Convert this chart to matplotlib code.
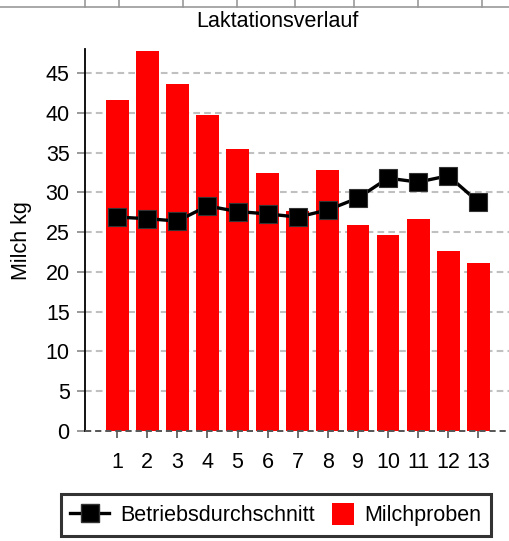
import matplotlib
matplotlib.use("Agg")
import matplotlib.pyplot as plt
from matplotlib.lines import Line2D
from matplotlib.patches import Patch, Rectangle
from matplotlib.legend_handler import HandlerPatch

plt.rcParams['font.family'] = ['Liberation Sans', 'DejaVu Sans']

months = [1, 2, 3, 4, 5, 6, 7, 8, 9, 10, 11, 12, 13]
milchproben = [41.6, 47.8, 43.6, 39.7, 35.4, 32.4, 27.7, 32.8, 25.9, 24.6, 26.6, 22.6, 21.1]
betrieb = [26.9, 26.7, 26.4, 28.3, 27.6, 27.3, 26.9, 27.8, 29.3, 31.8, 31.3, 32.1, 28.8]
yticks = [0, 5, 10, 15, 20, 25, 30, 35, 40, 45]

FS = 15.5
W, H = 509, 541
fig = plt.figure(figsize=(W / 100, H / 100), dpi=100)
ax = fig.add_axes([85 / W, 1 - 431 / H, (509 - 85) / W, (431 - 49.3) / H])

for y in yticks[1:]:
    ax.axhline(y, color='#c0c0c0', lw=1.5, ls=(0, (3.2, 2.0)), zorder=0)
ax.axhline(0, color='#555555', lw=1.4, ls=(0, (3.2, 2.0)), zorder=3, clip_on=False)

ax.bar(months, milchproben, width=0.76, color='#ff0000', zorder=1)
ax.plot(months, betrieb, color='black', lw=2.4, marker='s', markersize=13,
        markerfacecolor='black', markeredgecolor='#333333', markeredgewidth=0.8, zorder=4)

ax.set_xlim(-0.07, 14.02)
ax.set_ylim(0, 48)
ax.set_xticks(months)
ax.set_xticklabels([str(m) for m in months])
ax.set_yticks(yticks)

for s in ['top', 'right', 'bottom']:
    ax.spines[s].set_visible(False)
ax.spines['left'].set_color('black')
ax.spines['left'].set_linewidth(1.3)

ax.tick_params(axis='y', direction='out', length=6, width=1.2, color='#888888',
               labelsize=FS, pad=5)
ax.tick_params(axis='x', direction='out', length=5, width=1.2, color='#555555',
               labelsize=FS, pad=10)

ax.set_ylabel('Milch kg', fontsize=FS)
ax.yaxis.set_label_coords((32 - 85) / 424, 0.5)
fig.text(277 / W, 1 - 21.5 / H, 'Laktationsverlauf', ha='center', va='center', fontsize=FS)

# remnants of table border at top
fig.add_artist(Line2D([0, 1], [1 - 6.5 / H, 1 - 6.5 / H], transform=fig.transFigure,
                      color='#999999', lw=1.2))
for xp in [85, 119, 183, 237, 295, 354, 418, 482]:
    fig.add_artist(Line2D([xp / W, xp / W], [1, 1 - 6.5 / H], transform=fig.transFigure,
                          color='#999999', lw=1.2))


def square_patch(legend, orig_handle, xdescent, ydescent, width, height, fontsize):
    s = 15.8
    return Rectangle((-xdescent + width - s, -ydescent + (height - s) / 2), s, s)


handles = [
    Line2D([0], [0], color='black', lw=2.4, marker='s', markersize=12.5,
           markerfacecolor='black', markeredgecolor='#333333'),
    Patch(facecolor='#ff0000', edgecolor='none'),
]
leg = fig.legend(handles, ['Betriebsdurchschnitt', 'Milchproben'], loc='center',
                 bbox_to_anchor=(276 / W, 1 - 515 / H), ncol=2, fontsize=FS,
                 frameon=True, fancybox=False, edgecolor='black', handlelength=1.81,
                 handleheight=1.0, columnspacing=0.0, handletextpad=0.5,
                 borderpad=0.45,
                 handler_map={Patch: HandlerPatch(patch_func=square_patch)})
leg.get_frame().set_linewidth(2.2)

fig.savefig('out.png', dpi=100)
